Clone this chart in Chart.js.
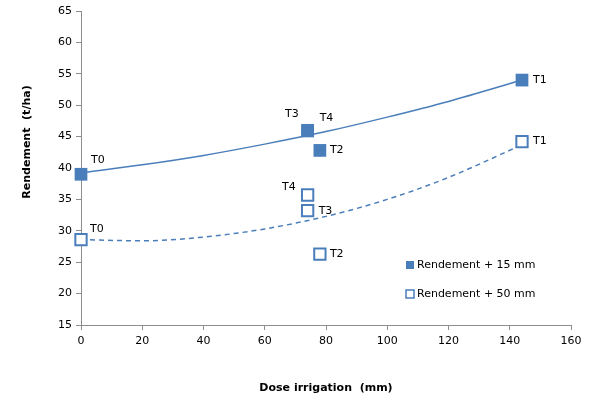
<!DOCTYPE html>
<html>
<head>
<meta charset="utf-8">
<script src="https://cdn.jsdelivr.net/npm/chart.js@4"></script>
<style>
  body { margin: 0; background: #fff; }
  #wrap { width: 595px; height: 400px; position: relative; }
</style>
</head>
<body>
<div id="wrap"><canvas id="mainchart"></canvas></div>
<script>
// traitements T0..T4
const traitements = ["T0", "T1", "T2", "T3", "T4"];
const doses = [0, 144, 78, 74, 74];
const rend15 = [39.0, 54.0, 42.8, 46.0, 45.9];
const rend50 = [28.6, 44.2, 26.3, 33.2, 35.7];

// courbes de tendance
const trendX = [0, 20, 40, 60, 80, 100, 120, 144];
const trend15 = [39.2, 40.5, 42.0, 43.8, 45.8, 48.1, 50.6, 54.0];
const trend50 = [28.6, 28.4, 29.0, 30.3, 32.3, 35.0, 38.5, 43.7];

const legendLabels = ["Rendement + 15 mm", "Rendement + 50 mm"];
const xTitle = "Dose irrigation  (mm)";
const yTitle = "Rendement  (t/ha)";

const blue = "#4a7ebb";
const axisGrey = "#8c8c8c";
const font = "DejaVu Sans";

// label placement per series, same order as traitements
const labelPos = [
  [{ dx: 10, dy: -14, a: "left" }, { dx: 11, dy: 0, a: "left" }, { dx: 10, dy: 0, a: "left" }, { dx: -9, dy: -16, a: "right" }, { dx: 12, dy: -13, a: "left" }],
  [{ dx: 9, dy: -10, a: "left" }, { dx: 11, dy: 0, a: "left" }, { dx: 10, dy: 0, a: "left" }, { dx: 11, dy: 0, a: "left" }, { dx: -12, dy: -8, a: "right" }],
];

const toPoints = (xs, ys) => xs.map((x, i) => ({ x: x, y: ys[i] }));

const pointLabels = {
  id: "pointLabels",
  afterDatasetsDraw(chart) {
    const c = chart.ctx;
    c.save();
    c.font = "11px '" + font + "'";
    c.fillStyle = "#000";
    c.textBaseline = "middle";
    [0, 1].forEach((di) => {
      chart.getDatasetMeta(di).data.forEach((pt, i) => {
        const p = labelPos[di][i];
        c.textAlign = p.a;
        c.fillText(traitements[i], pt.x + p.dx, pt.y + p.dy);
      });
    });
    c.restore();
  },
};

const extras = {
  id: "extras",
  afterDraw(chart) {
    const c = chart.ctx;
    const area = chart.chartArea;
    c.save();
    // axis titles
    c.fillStyle = "#000";
    c.font = "bold 11px '" + font + "'";
    c.textAlign = "center";
    c.textBaseline = "middle";
    c.fillText(xTitle, (area.left + area.right) / 2, 388);
    c.translate(27, 142);
    c.rotate(-Math.PI / 2);
    c.fillText(yTitle, 0, 0);
    c.restore();

    // legend inside plot
    c.save();
    c.font = "11px '" + font + "'";
    c.textBaseline = "middle";
    c.textAlign = "left";
    const lx = area.left + 329;
    const ly = [area.top + 254, area.top + 283];
    c.fillStyle = blue;
    c.fillRect(lx - 4, ly[0] - 4, 8, 8);
    c.strokeStyle = blue;
    c.lineWidth = 1.5;
    c.fillStyle = "#fff";
    c.fillRect(lx - 4, ly[1] - 4, 8, 8);
    c.strokeRect(lx - 4, ly[1] - 4, 8, 8);
    c.fillStyle = "#000";
    legendLabels.forEach((t, i) => c.fillText(t, lx + 7, ly[i]));
    c.restore();
  },
};

const ctx = document.getElementById("mainchart").getContext("2d");
const mainchart = new Chart(ctx, {
  type: "scatter",
  data: {
    datasets: [
      {
        label: legendLabels[0],
        data: toPoints(doses, rend15),
        pointStyle: "rect",
        pointRadius: 9,
        backgroundColor: blue,
        borderColor: blue,
        borderWidth: 0,
        clip: false,
        order: 0,
      },
      {
        label: legendLabels[1],
        data: toPoints(doses, rend50),
        pointStyle: "rect",
        pointRadius: 8,
        backgroundColor: "#fff",
        borderColor: blue,
        borderWidth: 2,
        clip: false,
        order: 0,
      },
      {
        label: "tendance 15",
        data: toPoints(trendX, trend15),
        showLine: true,
        pointRadius: 0,
        borderColor: blue,
        borderWidth: 1.5,
        cubicInterpolationMode: "monotone",
        order: 1,
      },
      {
        label: "tendance 50",
        data: toPoints(trendX, trend50),
        showLine: true,
        pointRadius: 0,
        borderColor: blue,
        borderWidth: 1.5,
        borderDash: [5, 4],
        cubicInterpolationMode: "monotone",
        order: 1,
      },
    ],
  },
  options: {
    responsive: true,
    maintainAspectRatio: false,
    animation: false,
    layout: { padding: { top: 11, right: 24, left: 0, bottom: 0 } },
    plugins: { legend: { display: false }, tooltip: { enabled: false } },
    scales: {
      x: {
        type: "linear",
        min: 0,
        max: 160,
        ticks: { stepSize: 20, color: "#000", padding: 5, font: { family: font, size: 11 } },
        grid: { drawOnChartArea: false, drawTicks: true, tickLength: 5, color: axisGrey },
        border: { color: axisGrey },
        afterFit: (s) => { s.height = 75; },
      },
      y: {
        min: 15,
        max: 65,
        ticks: { stepSize: 5, color: "#000", padding: 4, font: { family: font, size: 11 } },
        grid: { drawOnChartArea: false, drawTicks: true, tickLength: 5, color: axisGrey },
        border: { color: axisGrey },
        afterFit: (s) => { s.width = 81; },
      },
    },
  },
  plugins: [pointLabels, extras],
});
</script>
</body>
</html>
